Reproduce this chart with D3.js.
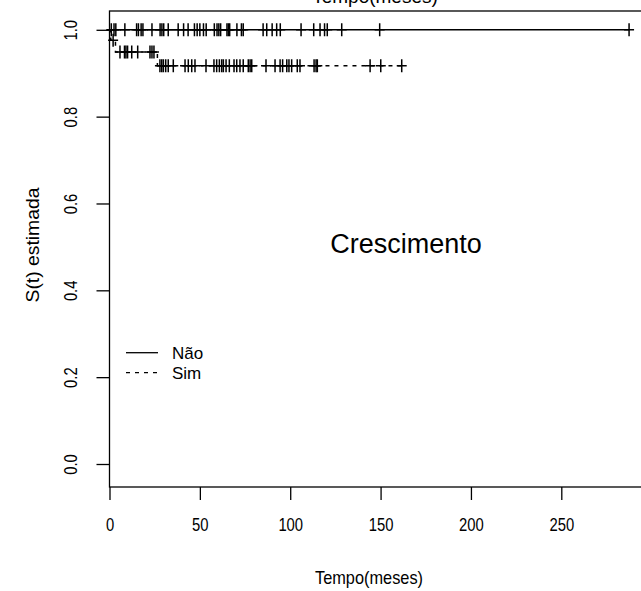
<!DOCTYPE html>
<html>
<head>
<meta charset="utf-8">
<script src="https://cdn.jsdelivr.net/npm/d3@7"></script>
<style>
  body { margin: 0; background: #fff; }
  svg { display: block; }
  text { font-family: "Liberation Sans", Arial, sans-serif; fill: #000; }
</style>
</head>
<body>
<div id="chart"></div>
<script>
// censoring times (months)
const naoCensor = [1, 2.5, 3.5, 8.5, 15, 16, 17.5, 18.5, 23.5, 28, 29, 30, 32.5, 38, 41, 43.5, 47, 48.5,
  50, 52, 53.5, 58, 59.5, 60.5, 61.5, 65, 65.8, 66.5, 70.5, 73, 74, 85, 87, 90, 92.5, 94.5,
  106, 113, 116.5, 119, 120.5, 128.5, 149.5, 287.5];
const naoTimes = [0];
const naoSurv = [1];

const simTimes = [0, 0.7, 3.3, 26.5];
const simSurv = [1, 0.976, 0.949, 0.917];
const simCensor = [2, 5.8, 8.3, 9.1, 10, 12.3, 15.6, 22.4, 23.5, 24.6,
  27.9, 28.9, 29.8, 31.1, 32.5, 35.3, 41.8, 43.6, 45.5, 47.3, 53.4, 57.8, 59.3, 60.8, 62.1, 63,
  64.5, 66.3, 68.9, 70.4, 72.2, 74, 76.8, 77.8, 78.7, 86.6, 91.6, 94.4, 95.8, 98.1, 99.3, 100.8,
  103.9, 105.4, 113.2, 114.3, 115, 144.2, 150.1, 161.7];

const xTicks = [0, 50, 100, 150, 200, 250];
const yTicks = [0, 0.2, 0.4, 0.6, 0.8, 1.0];
const legendLabels = ['Não', 'Sim'];

const W = 641, H = 591;
const box = { left: 109.5, top: 11, bottom: 487, right: 650 };

const svg = d3.select('#chart').append('svg')
  .attr('width', W).attr('height', H);

const x = d3.scaleLinear().domain([0, 250]).range([109.5, 561.3]);
const y = d3.scaleLinear().domain([0, 1]).range([464, 29.8]);

// title, cut off by the top edge as in the original picture
svg.append('text')
  .attr('x', 375).attr('y', 3)
  .attr('text-anchor', 'middle')
  .attr('font-size', 19)
  .text('Tempo(meses)');

// box
svg.append('rect')
  .attr('x', box.left).attr('y', box.top)
  .attr('width', box.right - box.left).attr('height', box.bottom - box.top)
  .attr('fill', 'none').attr('stroke', '#000').attr('stroke-width', 1.3);

// x axis
const gx = svg.append('g')
  .attr('transform', `translate(0,${box.bottom})`)
  .call(d3.axisBottom(x).tickValues(xTicks).tickSize(13).tickPadding(18).tickFormat(d3.format('d')));
gx.select('.domain').remove();
gx.selectAll('line').attr('stroke', '#000').attr('stroke-width', 1.3);
gx.selectAll('text')
  .attr('font-size', 19)
  .attr('font-family', '"Liberation Sans", Arial, sans-serif')
  .attr('transform', 'scale(0.78,1)');

// y axis
const gy = svg.append('g')
  .attr('transform', `translate(${box.left},0)`)
  .call(d3.axisLeft(y).tickValues(yTicks).tickSize(13).tickFormat(d3.format('.1f')));
gy.select('.domain').remove();
gy.selectAll('line').attr('stroke', '#000').attr('stroke-width', 1.3);
gy.selectAll('text')
  .attr('font-size', 19)
  .attr('font-family', '"Liberation Sans", Arial, sans-serif')
  .attr('x', 0).attr('y', -33).attr('dy', 0)
  .attr('text-anchor', 'middle')
  .attr('transform', 'rotate(-90) scale(0.78,1)');

// axis titles
svg.append('text')
  .attr('x', 369).attr('y', 584)
  .attr('text-anchor', 'middle')
  .attr('font-size', 19)
  .attr('textLength', 108).attr('lengthAdjust', 'spacingAndGlyphs')
  .text('Tempo(meses)');

svg.append('text')
  .attr('transform', 'translate(39,245) rotate(-90)')
  .attr('text-anchor', 'middle')
  .attr('font-size', 19)
  .attr('textLength', 115).attr('lengthAdjust', 'spacingAndGlyphs')
  .text('S(t) estimada');

// step curves
function stepFn(times, surv) {
  return t => {
    let s = surv[0];
    for (let i = 0; i < times.length; i++) if (t >= times[i]) s = surv[i];
    return s;
  };
}

const groups = [
  { times: naoTimes, surv: naoSurv, censor: naoCensor, dash: null },
  { times: simTimes, surv: simSurv, censor: simCensor, dash: '4,5' }
];

const line = d3.line().x(d => x(d[0])).y(d => y(d[1])).curve(d3.curveStepAfter);

groups.forEach(g => {
  const S = stepFn(g.times, g.surv);
  const tEnd = d3.max(g.censor);
  const pts = g.times.map((t, i) => [t, g.surv[i]]);
  pts.push([tEnd, S(tEnd)]);

  svg.append('path')
    .datum(pts)
    .attr('d', line)
    .attr('fill', 'none')
    .attr('stroke', '#000')
    .attr('stroke-width', 1.5)
    .attr('stroke-dasharray', g.dash);

  svg.append('g').selectAll('path')
    .data(g.censor)
    .join('path')
    .attr('d', t => {
      const cx = x(t), cy = y(S(t));
      return `M${cx},${cy - 6.5}v13M${cx - 5},${cy}h10`;
    })
    .attr('stroke', '#000')
    .attr('stroke-width', 1.5)
    .attr('fill', 'none');
});

// legend
const legend = svg.append('g');
legendLabels.forEach((lab, i) => {
  const ly = 352.7 + i * 20;
  legend.append('line')
    .attr('x1', 126).attr('x2', 158).attr('y1', ly).attr('y2', ly)
    .attr('stroke', '#000').attr('stroke-width', 1.3)
    .attr('stroke-dasharray', groups[i].dash);
  legend.append('text')
    .attr('x', 172).attr('y', ly + 6)
    .attr('font-size', 17)
    .text(lab);
});

// annotation
svg.append('text')
  .attr('x', 406).attr('y', 253)
  .attr('text-anchor', 'middle')
  .attr('font-size', 27)
  .text('Crescimento');
</script>
</body>
</html>
